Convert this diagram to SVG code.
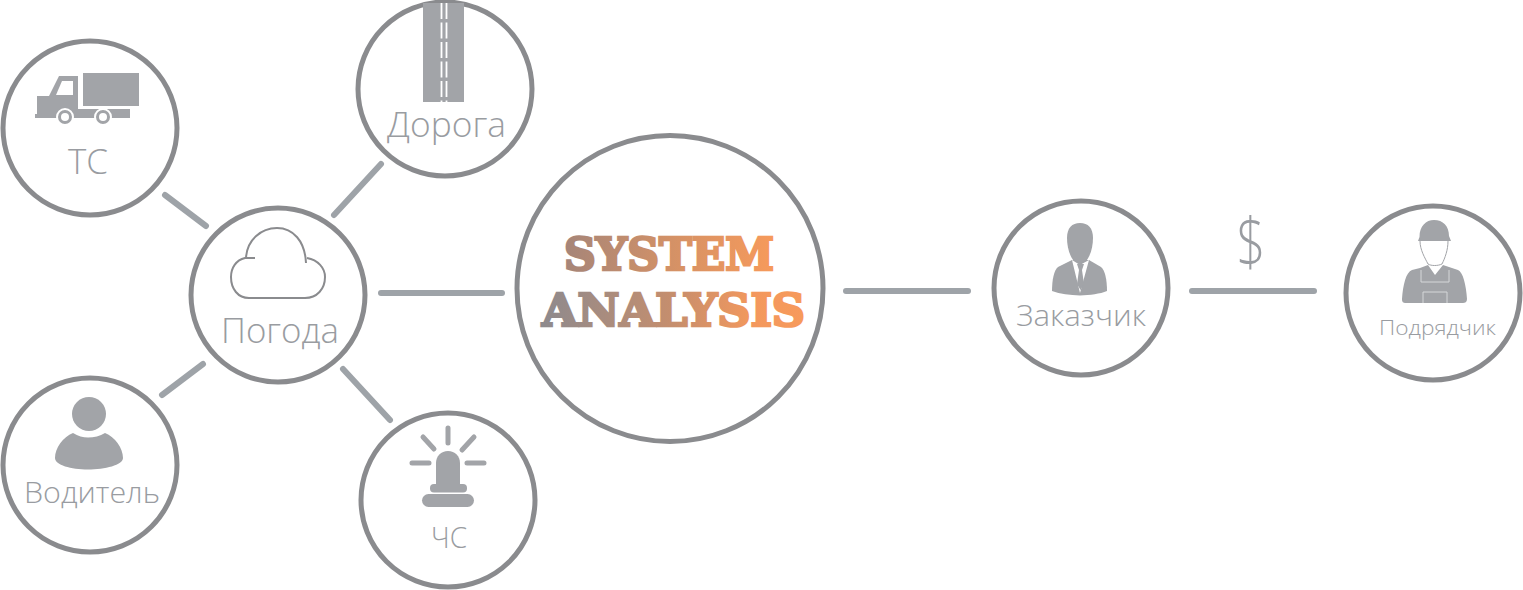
<svg xmlns="http://www.w3.org/2000/svg" width="1523" height="590" viewBox="0 0 1523 590">
<style>
.ring{fill:#fff;stroke:#8a8b8e;stroke-width:5}
.ic{fill:#a2a4a8}
.lb{font-family:"Open Sans","Noto Sans","Liberation Sans",sans-serif;font-weight:300;fill:#999ca1;text-anchor:middle}
.ti{font-family:"DejaVu Serif","Liberation Serif",serif;font-weight:700;font-size:44px;stroke-width:2.6;stroke-linejoin:miter}
.cn{stroke:#9ea3a8;stroke-width:6;stroke-linecap:round;fill:none}
</style>
<defs>
<linearGradient id="g1" x1="563" y1="0" x2="775" y2="0" gradientUnits="userSpaceOnUse"><stop offset="0" stop-color="#a58579"/><stop offset="0.55" stop-color="#d79265"/><stop offset="1" stop-color="#f79a5b"/></linearGradient>
<linearGradient id="g2" x1="541" y1="0" x2="806" y2="0" gradientUnits="userSpaceOnUse"><stop offset="0" stop-color="#8d8a8e"/><stop offset="0.5" stop-color="#c68e6d"/><stop offset="0.8" stop-color="#f3985d"/><stop offset="1" stop-color="#f79a5b"/></linearGradient>
</defs>
<g id="connectors">
<line class="cn" x1="165" y1="195" x2="206" y2="226"/>
<line class="cn" x1="334" y1="215" x2="381" y2="164"/>
<line class="cn" x1="381" y1="293" x2="502" y2="293"/>
<line class="cn" x1="162" y1="395" x2="203" y2="364"/>
<line class="cn" x1="343" y1="369" x2="390" y2="420"/>
<line class="cn" x1="846" y1="291" x2="968" y2="291"/>
<line class="cn" x1="1192" y1="291" x2="1314" y2="291"/>
</g>
<g id="node-ts">
<circle class="ring" cx="90" cy="128" r="87"/>
<rect class="ic" x="83" y="73" width="56" height="33"/>
<path class="ic" d="M37 96H49L59 76H78V109H130V118H35V114H37Z"/>
<path fill="#fff" d="M56 95L62 81H73V95Z"/>
<circle class="ic" cx="65" cy="117" r="8" stroke="#fff" stroke-width="2"/>
<circle fill="#fff" cx="65" cy="117" r="4"/>
<circle class="ic" cx="103" cy="117" r="8" stroke="#fff" stroke-width="2"/>
<circle fill="#fff" cx="103" cy="117" r="4"/>
<text class="lb" x="88" y="174" font-size="34" textLength="40" lengthAdjust="spacingAndGlyphs">ТС</text>
</g>
<g id="node-road">
<circle class="ring" cx="445" cy="89" r="87"/>
<rect class="ic" x="423" y="3" width="41" height="99"/>
<path d="M441.500 3V102M446.500 3V102" stroke="#fff" stroke-width="1.800" stroke-dasharray="16 3.500" fill="none"/>
<text class="lb" x="446.500" y="137" font-size="35" textLength="119" lengthAdjust="spacingAndGlyphs">Дорога</text>
</g>
<g id="node-weather">
<circle class="ring" cx="278" cy="295" r="87"/>
<path d="M255 258H245C236 260 231 268 231 277C231 289 238 298 249 298H305C317 298 325 289 325 277C325 268 318 260 307 258" fill="none" stroke="#8a8b8e" stroke-width="2"/>
<path d="M246 258C247 240 261 228 277 228C293 228 305 241 306 263" fill="none" stroke="#8a8b8e" stroke-width="2"/>
<text class="lb" x="280" y="343" font-size="34" textLength="118" lengthAdjust="spacingAndGlyphs">Погода</text>
</g>
<g id="node-driver">
<circle class="ring" cx="90" cy="465" r="87"/>
<circle class="ic" cx="89" cy="414" r="17"/>
<path class="ic" d="M73 433C78 436 83 437.500 88 437.500C94 437.500 100 436 105 433C115 437 123 448 123 458C123 465 105 469.500 88 469.500C71 469.500 55 465 55 458C55 448 63 437 73 433Z"/>
<text class="lb" x="92" y="503" font-size="30" textLength="136" lengthAdjust="spacingAndGlyphs">Водитель</text>
</g>
<g id="node-emergency">
<circle class="ring" cx="448" cy="500" r="87"/>
<path class="ic" d="M436 486V463C436 456 441 451 448 451C455 451 460 456 460 463V486Z"/>
<rect class="ic" x="430" y="484" width="37" height="8.500" rx="4"/>
<rect class="ic" x="422" y="494" width="52" height="13" rx="6.500"/>
<path d="M448 428V443M423 437L434 449M474 437L462 450M412 463H429M467 463H484" stroke="#a2a4a8" stroke-width="5" stroke-linecap="round" fill="none"/>
<text class="lb" x="449" y="548" font-size="30" textLength="36" lengthAdjust="spacingAndGlyphs">ЧС</text>
</g>
<g id="node-system">
<circle class="ring" cx="670" cy="288.500" r="153"/>
<text class="ti" x="564" y="270" fill="url(#g1)" stroke="url(#g1)" textLength="210" lengthAdjust="spacingAndGlyphs">SYSTEM</text>
<text class="ti" x="542" y="326" fill="url(#g2)" stroke="url(#g2)" textLength="263" lengthAdjust="spacingAndGlyphs">ANALYSIS</text>
</g>
<g id="node-customer">
<circle class="ring" cx="1081" cy="288" r="87"/>
<path class="ic" d="M1080 223C1088 223 1093 228 1093 238C1093 250 1088 264 1080 264C1072 264 1067 250 1067 238C1067 228 1072 223 1080 223Z"/>
<path class="ic" d="M1072 260L1058 267C1054 270 1052 280 1052 291C1060 294 1070 295 1080 295.500C1090 295 1100 294 1107 291C1107 280 1105 270 1101 267L1089 260Z"/>
<path fill="#fff" d="M1072 260L1080 293L1089 260L1080 265Z"/>
<path class="ic" d="M1077 264H1084L1082 270L1084 284L1080.500 290L1077 284L1079 270Z"/>
<text class="lb" x="1081" y="326" font-size="30" textLength="130" lengthAdjust="spacingAndGlyphs">Заказчик</text>
</g>
<g id="node-contractor">
<circle class="ring" cx="1433" cy="293" r="87"/>
<path class="ic" d="M1418 241L1419.500 237C1419.500 226 1426 220 1434 220C1443 220 1449 226 1449 236L1451 241Z"/>
<path d="M1420 241C1420 250 1425 258 1428 264C1431 266 1438 266 1442 264C1445 258 1448 250 1448 241" fill="#fff" stroke="#a2a4a8" stroke-width="1"/>
<path class="ic" d="M1420 268L1428 265L1435 275L1443 265L1458 270C1463 272 1466 285 1467 299C1467 302 1465 303 1463 303H1406C1403 303 1402 302 1402 299C1403 285 1406 272 1412 270Z"/>
<path d="M1421 270V282M1449 270V282M1421 282H1449M1423 303V292H1447V303" fill="none" stroke="#d5d7d9" stroke-width="1"/>
<text class="lb" x="1437.500" y="335" font-size="21" textLength="117" lengthAdjust="spacingAndGlyphs">Подрядчик</text>
</g>
<g id="label-dollar">
<text class="lb" x="1251" y="266" font-size="66" textLength="29" lengthAdjust="spacingAndGlyphs">$</text>
</g>
</svg>
